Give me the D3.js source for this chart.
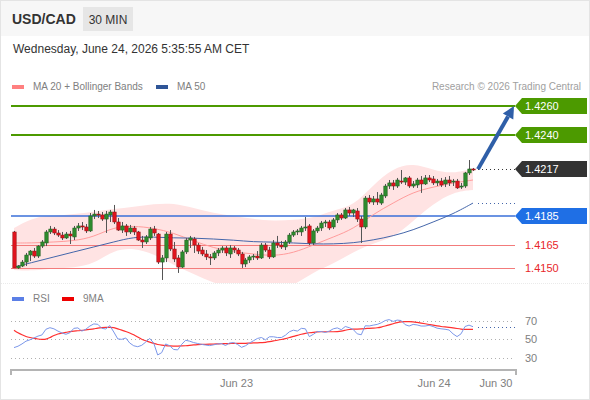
<!DOCTYPE html>
<html>
<head>
<meta charset="utf-8">
<script src="https://cdn.jsdelivr.net/npm/d3@7"></script>
<style>
  body { margin: 0; background: #fff; }
  svg { display: block; font-family: "Liberation Sans", Arial, sans-serif; }
</style>
</head>
<body>
<svg id="chart" width="590" height="400"></svg>
<script>
'use strict'

// 30 min candles, USD/CAD
var open = [
  1.41742,1.41497,1.41510,1.41537,1.41585,1.41612,1.41578,1.41646,1.41667,1.41742,
  1.41762,1.41735,1.41721,1.41701,1.41728,1.41708,1.41769,1.41783,1.41776,1.41749,
  1.41851,1.41864,1.41858,1.41830,1.41858,1.41878,1.41810,1.41755,1.41783,1.41742,
  1.41769,1.41742,1.41687,1.41674,1.41701,1.41762,1.41728,1.41537,1.41565,1.41728,
  1.41626,1.41565,1.41503,1.41606,1.41687,1.41694,1.41653,1.41619,1.41592,1.41572,
  1.41565,1.41599,1.41619,1.41633,1.41592,1.41633,1.41619,1.41592,1.41524,1.41551,
  1.41572,1.41578,1.41565,1.41653,1.41619,1.41572,1.41667,1.41653,1.41640,1.41674,
  1.41721,1.41742,1.41742,1.41769,1.41783,1.41667,1.41749,1.41769,1.41803,1.41810,
  1.41776,1.41824,1.41858,1.41837,1.41892,1.41871,1.41885,1.41830,1.41776,1.41973,
  1.41946,1.41967,1.41939,1.41987,1.42055,1.42076,1.42055,1.42089,1.42082,1.42110,
  1.42055,1.42062,1.42096,1.42069,1.42110,1.42103,1.42076,1.42089,1.42069,1.42096,
  1.42082,1.42089,1.42048,1.42055,1.42144,1.42171
];
var high = [
  1.41749,1.41517,1.41551,1.41599,1.41619,1.41633,1.41653,1.41687,1.41755,1.41783,
  1.41776,1.41755,1.41742,1.41742,1.41749,1.41783,1.41803,1.41810,1.41796,1.41871,
  1.41892,1.41885,1.41878,1.41885,1.41892,1.41926,1.41837,1.41810,1.41796,1.41790,
  1.41783,1.41749,1.41715,1.41721,1.41776,1.41783,1.41735,1.41585,1.41742,1.41755,
  1.41674,1.41585,1.41619,1.41701,1.41715,1.41708,1.41667,1.41640,1.41619,1.41592,
  1.41612,1.41633,1.41646,1.41646,1.41653,1.41646,1.41633,1.41606,1.41565,1.41585,
  1.41592,1.41612,1.41667,1.41667,1.41640,1.41687,1.41715,1.41681,1.41687,1.41735,
  1.41755,1.41762,1.41783,1.41844,1.41796,1.41762,1.41783,1.41817,1.41824,1.41824,
  1.41837,1.41871,1.41871,1.41905,1.41912,1.41899,1.41905,1.41851,1.41987,1.41994,
  1.41987,1.42014,1.42008,1.42069,1.42096,1.42096,1.42110,1.42164,1.42116,1.42123,
  1.42089,1.42110,1.42123,1.42130,1.42130,1.42123,1.42103,1.42110,1.42116,1.42123,
  1.42103,1.42103,1.42076,1.42151,1.42232,1.42178
];
var low = [
  1.41497,1.41490,1.41503,1.41510,1.41544,1.41565,1.41565,1.41633,1.41646,1.41728,
  1.41721,1.41708,1.41687,1.41694,1.41660,1.41687,1.41749,1.41755,1.41735,1.41742,
  1.41830,1.41837,1.41817,1.41735,1.41810,1.41796,1.41749,1.41735,1.41715,1.41728,
  1.41721,1.41681,1.41633,1.41660,1.41687,1.41715,1.41524,1.41415,1.41537,1.41612,
  1.41537,1.41463,1.41497,1.41592,1.41633,1.41599,1.41592,1.41578,1.41551,1.41517,
  1.41551,1.41578,1.41599,1.41578,1.41565,1.41599,1.41578,1.41497,1.41503,1.41531,
  1.41551,1.41551,1.41558,1.41606,1.41558,1.41565,1.41633,1.41626,1.41619,1.41660,
  1.41708,1.41721,1.41715,1.41749,1.41653,1.41653,1.41735,1.41749,1.41776,1.41755,
  1.41762,1.41803,1.41824,1.41830,1.41851,1.41844,1.41810,1.41667,1.41762,1.41933,
  1.41926,1.41926,1.41926,1.41973,1.42035,1.42028,1.42042,1.42069,1.42062,1.42042,
  1.42042,1.42042,1.42008,1.42062,1.42082,1.42062,1.42055,1.42048,1.42048,1.42055,
  1.42055,1.42035,1.42035,1.42042,1.42130,1.42157
];
var close = [
  1.41497,1.41510,1.41537,1.41585,1.41612,1.41578,1.41646,1.41674,1.41742,1.41762,
  1.41735,1.41721,1.41701,1.41728,1.41715,1.41769,1.41783,1.41776,1.41749,1.41851,
  1.41864,1.41858,1.41830,1.41864,1.41878,1.41810,1.41755,1.41783,1.41742,1.41769,
  1.41742,1.41687,1.41674,1.41708,1.41762,1.41735,1.41537,1.41565,1.41728,1.41626,
  1.41558,1.41503,1.41606,1.41687,1.41701,1.41653,1.41612,1.41592,1.41572,1.41565,
  1.41599,1.41619,1.41633,1.41599,1.41633,1.41619,1.41592,1.41524,1.41551,1.41572,
  1.41578,1.41565,1.41653,1.41619,1.41572,1.41667,1.41653,1.41640,1.41674,1.41721,
  1.41742,1.41749,1.41769,1.41776,1.41667,1.41749,1.41769,1.41803,1.41810,1.41769,
  1.41824,1.41858,1.41837,1.41892,1.41871,1.41892,1.41830,1.41776,1.41973,1.41946,
  1.41967,1.41946,1.41994,1.42055,1.42076,1.42055,1.42096,1.42082,1.42110,1.42055,
  1.42069,1.42096,1.42069,1.42110,1.42096,1.42076,1.42089,1.42062,1.42096,1.42076,
  1.42089,1.42042,1.42055,1.42144,1.42171,1.42168
];

// indicator values, read every 5 candles
var bandIdx = [0,5,10,15,20,25,30,35,40,45,50,55,60,65,70,75,80,85,90,95,100,105,110,115];
var ma20 = [1.41667,1.41667,1.41674,1.41681,1.41708,1.41776,1.41783,1.41769,1.41735,1.41681,1.41633,1.41606,
            1.41592,1.41578,1.41599,1.41653,1.41708,1.41762,1.41864,1.41939,1.42014,1.42048,1.42076,1.42096];
var bbUpper = [1.41769,1.41844,1.41851,1.41864,1.41878,1.41899,1.41912,1.41933,1.41939,1.41905,1.41871,1.41851,
               1.41830,1.41817,1.41824,1.41837,1.41892,1.41919,1.42062,1.42178,1.42212,1.42164,1.42137,1.42178];
var bbLower = [1.41483,1.41476,1.41497,1.41497,1.41524,1.41619,1.41633,1.41592,1.41517,1.41456,1.41394,1.41360,
               1.41354,1.41340,1.41374,1.41469,1.41524,1.41606,1.41667,1.41701,1.41817,1.41933,1.42014,1.42028];
var ma50 = [1.41503,1.41537,1.41572,1.41606,1.41640,1.41674,1.41708,1.41708,1.41701,1.41701,1.41694,1.41687,
            1.41674,1.41674,1.41667,1.41660,1.41660,1.41667,1.41687,1.41715,1.41755,1.41810,1.41864,1.41939];

var rsi = [
  41,42.5,45,48,49.5,51.5,53.5,54.8,61,62.7,
  61.5,59,57,55.5,57.2,62,62.5,59,61,64.5,
  66.8,66.4,62,61.3,65,58,50.5,50,51.5,46,
  43,42,43.5,47,51,46,33,35.5,45,43,
  39,38.5,44.5,49,48,46.5,45.5,44.5,43.8,43.2,
  44,45,45.3,43.3,46,46.5,44.5,41.3,43,46,
  48.5,51,52,49.5,52.8,52.8,52,52,54.5,58.3,
  60,59,62,61.5,53,55.5,58.5,58.5,57.5,59,
  61.5,62.5,60.5,64,62.7,60.7,56,55,64.8,64.6,
  65.5,66.3,68,70.5,71.5,69.5,71,70.5,66,64.5,
  66.3,65.7,64.5,64.5,65.3,64,62.2,61.5,61,60.2,
  56,53,56,64,65.5,63.8
];
var rsiMa = [
  60,57,55,53,52,51,50.3,50,50,52,
  54.2,56,56.9,57.5,58.5,59.1,59.3,59.8,60.2,60.8,
  61.4,62.3,62.8,63.1,63.1,62.9,61.5,60,58.6,57,
  55,52.5,50,48.5,47,45.5,44.3,43.6,43.1,42.8,
  42.7,42.7,42.8,43,43.4,43.9,44.3,44.5,44.5,44.7,
  44.9,45.1,45.2,45.3,45.4,45.6,45.6,45.6,45.7,45.9,
  46.1,46.2,46.5,46.7,47.4,48.3,49,49.8,50.8,52,
  53.2,54.3,55.6,56.5,57.2,57.7,58.1,58.3,58.3,58.3,
  58.3,58.3,58.8,59.9,60.9,61.1,61.2,61.4,61.7,62,
  62.3,62.6,63.3,64.5,65.8,67,68.3,69.1,69.3,69.3,
  69.2,68.4,67.7,67,66.2,65.4,64.7,64,63.5,63,
  62.5,61.8,61.1,60.9,60.9,60.9
];

var resistances = [1.4260, 1.4240];
var pivot = 1.4185;
var supports = [1.4165, 1.4150];
var lastPrice = 1.4217;
var rsiTicks = [70, 50, 30];
var dateLabels = ["Jun 23", "Jun 24", "Jun 30"];
var dateIdx = [55.75, 105.25, 120.75];

var svg = d3.select('#chart');
var W = 590, H = 400;
var left = 11, right = 515;

var x = d3.scaleLinear().domain([0, close.length - 1]).range([14, 473]);
var y = d3.scaleLinear().domain([1.4150, 1.4260]).range([267.5, 106]);
var yr = d3.scaleLinear().domain([30, 70]).range([357.7, 321]);

// snap a 1px line to the pixel grid
function crisp(v) { return Math.round(v) + 0.5; }

// frame and header
svg.append('rect').attr('x', 0).attr('y', 0).attr('width', W).attr('height', H).attr('fill', '#fff');
svg.append('rect').attr('x', 0).attr('y', 0).attr('width', W).attr('height', 36).attr('fill', '#f7f7f7');
svg.append('rect').attr('x', 0.5).attr('y', 0.5).attr('width', W - 1).attr('height', H - 1)
    .attr('fill', 'none').attr('stroke', '#e4e4e4');

svg.append('text').attr('x', 12).attr('y', 24).text('USD/CAD')
    .attr('font-size', 14).attr('font-weight', 'bold').attr('fill', '#333');
svg.append('rect').attr('x', 83).attr('y', 7).attr('width', 50).attr('height', 24).attr('fill', '#e6e6e6');
svg.append('text').attr('x', 108).attr('y', 23.5).attr('text-anchor', 'middle').text('30 MIN')
    .attr('font-size', 12).attr('fill', '#333');
svg.append('text').attr('x', 13).attr('y', 53).text('Wednesday, June 24, 2026 5:35:55 AM CET')
    .attr('font-size', 12).attr('fill', '#333');

// legend
function legendItem(lx, ly, color, label) {
  svg.append('rect').attr('x', lx).attr('y', ly - 5).attr('width', 12).attr('height', 4).attr('fill', color);
  svg.append('text').attr('x', lx + 21).attr('y', ly).text(label)
      .attr('font-size', 10).attr('fill', '#808080');
}
legendItem(12, 90, '#ff8080', 'MA 20 + Bollinger Bands');
legendItem(156, 90, '#2f5597', 'MA 50');
svg.append('text').attr('x', 581).attr('y', 90).attr('text-anchor', 'end')
    .text('Research \u00a9 2026 Trading Central').attr('font-size', 10).attr('fill', '#a0a0a0');
legendItem(12, 302, '#5b7fe6', 'RSI');
legendItem(62, 302, '#ee0000', '9MA');

// panel separator
svg.append('line').attr('x1', 1).attr('x2', W - 1).attr('y1', 283.5).attr('y2', 283.5)
    .attr('stroke', '#eaeaea').attr('stroke-dasharray', '1,1');

// price panel clip
svg.append('clipPath').attr('id', 'priceClip')
  .append('rect').attr('x', left).attr('y', 96).attr('width', right - left).attr('height', 187);
var price = svg.append('g').attr('clip-path', 'url(#priceClip)');

var bands = bandIdx.map(function(d, i) {
  return { i: d, up: bbUpper[i], lo: bbLower[i], ma20: ma20[i], ma50: ma50[i] };
});

price.append('path').datum(bands)
    .attr('fill', '#ffe3e3')
    .attr('d', d3.area().curve(d3.curveBasis)
      .x(function(d) { return x(d.i); })
      .y0(function(d) { return y(d.lo); })
      .y1(function(d) { return y(d.up); }));

// support and pivot levels
supports.forEach(function(s) {
  price.append('line').attr('x1', left).attr('x2', right)
      .attr('y1', crisp(y(s))).attr('y2', crisp(y(s))).attr('stroke', '#f37b7b').attr('stroke-width', 1);
});
price.append('line').attr('x1', left).attr('x2', right)
    .attr('y1', Math.round(y(pivot))).attr('y2', Math.round(y(pivot)))
    .attr('stroke', '#3a6fd8').attr('stroke-width', 1.6);

price.append('path').datum(bands)
    .attr('fill', 'none').attr('stroke', '#ff9c9c').attr('stroke-width', 1)
    .attr('d', d3.line().curve(d3.curveBasis)
      .x(function(d) { return x(d.i); }).y(function(d) { return y(d.ma20); }));
price.append('path').datum(bands)
    .attr('fill', 'none').attr('stroke', '#4466aa').attr('stroke-width', 1)
    .attr('d', d3.line().curve(d3.curveBasis)
      .x(function(d) { return x(d.i); }).y(function(d) { return y(d.ma50); }));

// candles
var candles = price.selectAll('g.candle')
    .data(close.map(function(c, i) { return { i: i, o: open[i], h: high[i], l: low[i], c: c }; }))
    .enter().append('g').classed('candle', true);

candles.append('line')
    .attr('x1', function(d) { return crisp(x(d.i)); })
    .attr('x2', function(d) { return crisp(x(d.i)); })
    .attr('y1', function(d) { return y(d.h); })
    .attr('y2', function(d) { return y(d.l); })
    .attr('stroke', '#555').attr('stroke-width', 1);

candles.append('rect')
    .attr('x', function(d) { return Math.round(x(d.i)) - 1.2; })
    .attr('width', 3.4)
    .attr('y', function(d) { return y(Math.max(d.o, d.c)); })
    .attr('height', function(d) { return Math.max(1, Math.abs(y(d.o) - y(d.c))); })
    .attr('fill', function(d) { return d.c >= d.o ? '#2e8b2e' : '#e0141e'; })
    .attr('stroke', function(d) { return d.c >= d.o ? '#1d5a1d' : '#8a1010'; })
    .attr('stroke-width', 0.5);

// resistance lines
resistances.forEach(function(r) {
  svg.append('line').attr('x1', left).attr('x2', right)
      .attr('y1', Math.round(y(r))).attr('y2', Math.round(y(r)))
      .attr('stroke', '#4c9a00').attr('stroke-width', 2);
});

// dotted extensions at the last candle
var xEnd = x(close.length - 1) + 5;
svg.append('line').attr('x1', xEnd).attr('x2', right)
    .attr('y1', crisp(y(lastPrice))).attr('y2', crisp(y(lastPrice)))
    .attr('stroke', '#333').attr('stroke-dasharray', '1,3');
svg.append('line').attr('x1', xEnd).attr('x2', right)
    .attr('y1', crisp(y(ma50[ma50.length - 1]))).attr('y2', crisp(y(ma50[ma50.length - 1])))
    .attr('stroke', '#4466aa').attr('stroke-dasharray', '1,3');

// price tags
function tag(value, color) {
  var yc = Math.round(y(value));
  svg.append('path')
      .attr('d', 'M' + right + ',' + yc + 'L' + (right + 7) + ',' + (yc - 8) + 'L587,' + (yc - 8) +
                 'L587,' + (yc + 8) + 'L' + (right + 7) + ',' + (yc + 8) + 'Z')
      .attr('fill', color);
  svg.append('text').attr('x', right + 10).attr('y', yc + 4).text(value.toFixed(4))
      .attr('font-size', 11).attr('fill', '#fff');
}
resistances.forEach(function(r) { tag(r, '#4c9a00'); });
tag(lastPrice, '#333');
tag(pivot, '#1f6fe5');
supports.forEach(function(s) {
  svg.append('text').attr('x', right + 10).attr('y', y(s) + 4).text(s.toFixed(4))
      .attr('font-size', 11).attr('fill', '#e8262a');
});

// target arrow
var ax0 = xEnd, ay0 = y(lastPrice), ax1 = right - 1, ay1 = y(resistances[0]);
var ang = Math.atan2(ay1 - ay0, ax1 - ax0);
var hl = 12, hw = 6;
var bx = ax1 - hl * Math.cos(ang), by = ay1 - hl * Math.sin(ang);
svg.append('line').attr('x1', ax0).attr('y1', ay0).attr('x2', bx).attr('y2', by)
    .attr('stroke', '#2f5fa8').attr('stroke-width', 4);
svg.append('path')
    .attr('d', 'M' + ax1 + ',' + ay1 +
               'L' + (bx + hw * Math.sin(ang)) + ',' + (by - hw * Math.cos(ang)) +
               'L' + (bx - hw * Math.sin(ang)) + ',' + (by + hw * Math.cos(ang)) + 'Z')
    .attr('fill', '#2f5fa8');

// RSI panel
rsiTicks.forEach(function(t) {
  svg.append('line').attr('x1', left).attr('x2', right).attr('y1', crisp(yr(t))).attr('y2', crisp(yr(t)))
      .attr('stroke', '#b0b0b0').attr('stroke-dasharray', '1,3');
  svg.append('text').attr('x', right + 10).attr('y', yr(t) + 4).text(t)
      .attr('font-size', 11).attr('fill', '#808080');
});

svg.append('path').datum(rsiMa)
    .attr('fill', 'none').attr('stroke', '#ff3030').attr('stroke-width', 1.2)
    .attr('d', d3.line().curve(d3.curveBasis)
      .x(function(d, i) { return x(i); }).y(function(d) { return yr(d); }));
svg.append('path').datum(rsi)
    .attr('fill', 'none').attr('stroke', '#7b97ea').attr('stroke-width', 1)
    .attr('d', d3.line()
      .x(function(d, i) { return x(i); }).y(function(d) { return yr(d); }));
svg.append('line').attr('x1', xEnd).attr('x2', right)
    .attr('y1', crisp(yr(rsi[rsi.length - 1]))).attr('y2', crisp(yr(rsi[rsi.length - 1])))
    .attr('stroke', '#4466aa').attr('stroke-dasharray', '1,3');

// time axis
svg.append('path')
    .attr('d', 'M' + left + ',375V370H' + (right + 1) + 'V375')
    .attr('fill', 'none').attr('stroke', '#b4b4b4').attr('stroke-width', 2);
dateLabels.forEach(function(lbl, i) {
  svg.append('text').attr('x', x(dateIdx[i])).attr('y', 387).attr('text-anchor', 'middle')
      .text(lbl).attr('font-size', 11).attr('fill', '#808080');
});
</script>
</body>
</html>
